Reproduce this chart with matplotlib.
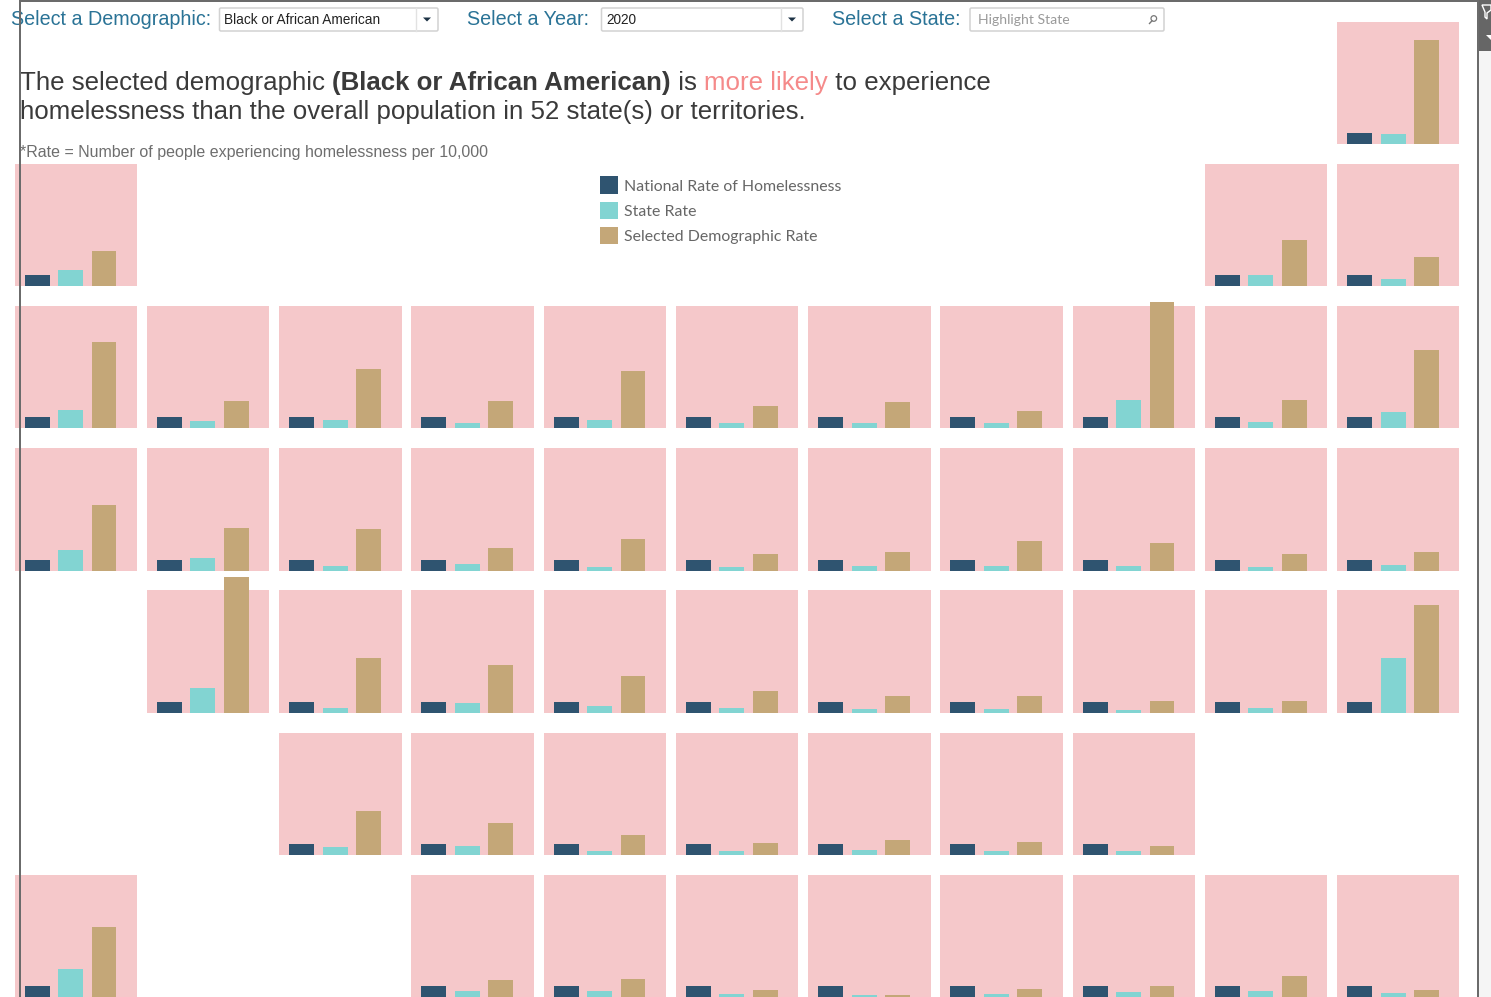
import matplotlib
matplotlib.use("Agg")
import matplotlib.pyplot as plt
from matplotlib.patches import Rectangle, FancyBboxPatch, Circle, Polygon

# ---------- data (rate per 10,000) ----------
national_rate = 17.6
series_names = ["National Rate of Homelessness", "State Rate", "Selected Demographic Rate"]

row0_cols = [10]
row0_state = [16.0]
row0_demo = [166.4]

row1_cols = [0, 9, 10]
row1_state = [25.6, 17.6, 11.2]
row1_demo = [56.0, 73.6, 46.4]

row2_cols = [0, 1, 2, 3, 4, 5, 6, 7, 8, 9, 10]
row2_state = [28.8, 11.2, 12.8, 8.0, 12.8, 8.0, 8.0, 8.0, 44.8, 9.6, 25.6]
row2_demo = [137.6, 43.2, 94.4, 43.2, 91.2, 35.2, 41.6, 27.2, 201.6, 44.8, 124.8]

row3_cols = [0, 1, 2, 3, 4, 5, 6, 7, 8, 9, 10]
row3_state = [33.6, 20.8, 8.0, 11.2, 6.4, 6.4, 8.0, 8.0, 8.0, 6.4, 9.6]
row3_demo = [105.6, 68.8, 67.2, 36.8, 51.2, 27.2, 30.4, 48.0, 44.8, 27.2, 30.4]

row4_cols = [1, 2, 3, 4, 5, 6, 7, 8, 9, 10]
row4_state = [40.0, 8.0, 16.0, 11.2, 8.0, 6.4, 6.4, 4.8, 8.0, 88.0]
row4_demo = [217.6, 88.0, 76.8, 59.2, 35.2, 27.2, 27.2, 19.2, 19.2, 172.8]

row5_cols = [2, 3, 4, 5, 6, 7, 8]
row5_state = [12.8, 14.4, 6.4, 6.4, 8.0, 6.4, 6.4]
row5_demo = [70.4, 51.2, 32.0, 19.2, 24.0, 20.8, 14.4]

row6_cols = [0, 3, 4, 5, 6, 7, 8, 9, 10]
row6_state = [44.8, 9.6, 9.6, 4.8, 3.2, 4.8, 8.0, 9.6, 6.4]
row6_demo = [112.0, 27.2, 28.8, 11.2, 3.2, 12.8, 17.6, 33.6, 11.2]

rows = [
    (row0_cols, row0_state, row0_demo),
    (row1_cols, row1_state, row1_demo),
    (row2_cols, row2_state, row2_demo),
    (row3_cols, row3_state, row3_demo),
    (row4_cols, row4_state, row4_demo),
    (row5_cols, row5_state, row5_demo),
    (row6_cols, row6_state, row6_demo),
]

# ---------- layout and style ----------
W, H = 1491, 997
col_left = [14.5, 146.75, 279, 411.25, 543.5, 675.75, 808, 940.25, 1072.5, 1204.75, 1337]
row_top = [21.7, 163.8, 306, 448.2, 590.4, 732.6, 874.8]
TILE_W, TILE_H = 122.5, 122.3
C_TILE, C_NAT, C_STATE, C_DEMO = "#f5c8ca", "#2f5470", "#82d4d2", "#c4a778"
C_LABEL = "#2a7396"
ARIAL = "Liberation Sans"

fig = plt.figure(figsize=(W / 100, H / 100), dpi=100, facecolor="white")

for r, (cols, state, demo) in enumerate(rows):
    for c, s, d in zip(cols, state, demo):
        ax = fig.add_axes([col_left[c] / W, 1 - (row_top[r] + TILE_H) / H, TILE_W / W, TILE_H / H])
        ax.set_facecolor(C_TILE)
        ax.set_xlim(-0.672, 2.985)
        ax.set_ylim(0, 195.7)
        ax.bar([0, 1, 2], [national_rate, s, d], width=0.746,
               color=[C_NAT, C_STATE, C_DEMO], clip_on=False, zorder=3)
        ax.set_xticks([])
        ax.set_yticks([])
        for sp in ax.spines.values():
            sp.set_visible(False)

# overlay in pixel coordinates for the page furniture
ov = fig.add_axes([0, 0, 1, 1], zorder=10)
ov.set_xlim(0, W)
ov.set_ylim(H, 0)
ov.axis("off")
ov.patch.set_alpha(0)

# view frame
ov.add_patch(Rectangle((19, 0), 2, H, color="#6b6b6b", lw=0, zorder=5))
ov.add_patch(Rectangle((19, 0), 1460, 2, color="#6b6b6b", lw=0, zorder=5))
ov.add_patch(Rectangle((1477, 0), 2, H, color="#6b6b6b", lw=0, zorder=5))
ov.add_patch(Rectangle((1479, 0), 12, 51, color="#666666", lw=0, zorder=5))
ov.add_patch(Rectangle((1479, 51), 12, H - 51, color="#f5f5f5", lw=0, zorder=5))
ov.add_patch(Polygon([(1482, 5), (1491, 5), (1491, 10), (1487, 13), (1487, 19), (1485, 17), (1485, 12)],
                     closed=True, fc="none", ec="white", lw=1, zorder=6))
ov.add_patch(Polygon([(1486, 35), (1491, 35), (1491, 40)], closed=True, fc="white", lw=0, zorder=6))

# filter labels
for x, t in [(11, "Select a Demographic:"), (467, "Select a Year:"), (832, "Select a State:")]:
    ov.text(x, 19.5, t, family=ARIAL, fontsize=14.2, color=C_LABEL, va="center", ha="left")


def box(x0, x1, divider=None):
    ov.add_patch(FancyBboxPatch((x0, 8), x1 - x0, 23, boxstyle="round,pad=0,rounding_size=1.5",
                                fc="white", ec="#d2d2d2", lw=1.1))
    if divider:
        ov.plot([divider, divider], [8, 31], color="#e2e2e2", lw=1)
        cx = (divider + x1) / 2
        ov.add_patch(Polygon([(cx - 4, 17.5), (cx + 4, 17.5), (cx, 21.5)], closed=True, fc="#1d3245", lw=0))


box(219.5, 438, 416)
box(601.5, 803, 781)
box(970, 1164)
ov.text(224, 20.5, "Black or African American", family=ARIAL, fontsize=9.85, color="#222222", va="center")
ov.text(606, 20.5, "2020", family=ARIAL, fontsize=9.85, color="#222222", va="center")
ov.text(978, 20, "Highlight State", family="Lato", fontsize=10.1, color="#9a9a9a", va="center")
ov.add_patch(Circle((1153.8, 18.5), 2.8, fc="none", ec="#777777", lw=0.9))
ov.plot([1152, 1149.5], [20.8, 23.5], color="#777777", lw=1)

# headline
renderer = fig.canvas.get_renderer()
TITLE_SIZE = 18.67


def run(x, y, pieces):
    for t, col, wt in pieces:
        ov.text(x, y, t, family=ARIAL, fontsize=TITLE_SIZE, color=col, fontweight=wt, va="baseline", ha="left")
        # trailing blanks count through the advance of a marker string
        probe = ov.text(0, 0, t + "|", family=ARIAL, fontsize=TITLE_SIZE, fontweight=wt)
        bar = ov.text(0, 0, "|", family=ARIAL, fontsize=TITLE_SIZE, fontweight=wt)
        x += probe.get_window_extent(renderer).width - bar.get_window_extent(renderer).width
        probe.remove()
        bar.remove()


DARK = "#3a3a3a"
run(20, 90, [("The selected demographic ", DARK, "normal"),
             ("(Black or African American)", DARK, "bold"),
             (" is ", DARK, "normal"),
             ("more likely", "#f58a8a", "normal"),
             (" to experience", DARK, "normal")])
run(20, 119.5, [("homelessness than the overall population in 52 state(s) or territories.", DARK, "normal")])

ov.text(20, 152, "*Rate = Number of people experiencing homelessness per 10,000",
        family=ARIAL, fontsize=11.5, color="#6e6e6e", va="center")

# legend
for (y, col, name) in zip([176.5, 201.5, 226.5], [C_NAT, C_STATE, C_DEMO], series_names):
    ov.add_patch(Rectangle((600, y), 17.5, 17.5, color=col, lw=0))
    ov.text(623.5, y + 10.5, name, family="Lato", fontsize=11.4, color="#666666", va="center")

fig.savefig("out.png", dpi=100, facecolor="white")
